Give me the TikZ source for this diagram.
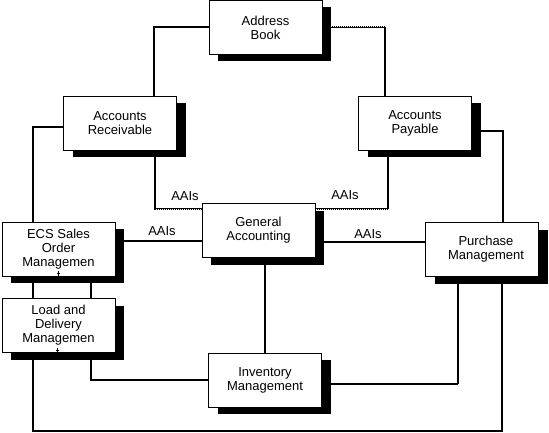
\documentclass[tikz,border=0pt]{standalone}
\usepackage{fontspec}
\setmainfont{Liberation Sans}
\usetikzlibrary{shadows,backgrounds}
\begin{document}
\begin{tikzpicture}[x=1pt,y=-1pt,
  box/.style={draw=black, line width=0.8pt, fill=white, minimum width=113pt, minimum height=54pt,
    inner sep=0pt, align=center, font=\fontsize{13}{14}\selectfont,
    drop shadow={shadow xshift=9pt, shadow yshift=-7pt, fill=black, opacity=1}},
  conn/.style={line width=2pt},
  dconn/.style={line width=2pt, dash pattern=on 1pt off 1pt,
    preaction={draw, line width=1.2pt, solid}},
  lbl/.style={font=\fontsize{13}{13.5}\selectfont, inner sep=0pt},
  tick/.style={line width=0.6pt}]
\useasboundingbox (0,0) rectangle (549,433);

\node[box] (AB) at (265.5,27.5) {Address\\Book};
\node[box] (AR) at (120,123) {Accounts\\Receivable};
\node[box] (AP) at (415,123) {Accounts\\Payable};
\node[box] (GA) at (258.5,230.5) {General\\Accounting};
\node[box] (PM) at (482,249.5) {\hspace*{8pt}Purchase\\\hspace*{8pt}Management};
\node[box] (ECS) at (58.5,249) {ECS Sales\\Order\\Managemen};
\node[box] (LD) at (58.5,325.5) {Load and\\Delivery\\Managemen};
\node[box] (IM) at (265,380) {Inventory\\Management};

\coordinate (bot) at (0,431);
\coordinate (arn) at ([xshift=34pt]AR.north);
\coordinate (apn) at ([xshift=-30pt]AP.north);
\coordinate (arw) at ([yshift=-4pt]AR.west);
\coordinate (ecsn) at ([xshift=-25.5pt]ECS.north);
\coordinate (ars) at ([xshift=35pt]AR.south);
\coordinate (gaw1) at ([yshift=22pt]GA.west);
\coordinate (ape) at ([yshift=-8pt]AP.east);
\coordinate (pmn) at ([xshift=21pt]PM.north);
\coordinate (aps) at ([xshift=-27pt]AP.south);
\coordinate (gae1) at ([yshift=22pt]GA.east);
\coordinate (ecse) at ([yshift=8pt]ECS.east);
\coordinate (gae2) at ([yshift=-11pt]GA.east);
\coordinate (pms1) at ([xshift=-24pt]PM.south);
\coordinate (ime) at ([yshift=-4pt]IM.east);
\coordinate (pms2) at ([xshift=20pt]PM.south);
\coordinate (lds1) at ([xshift=-25.5pt]LD.south);
\coordinate (lds2) at ([xshift=32.5pt]LD.south);
\coordinate (ecss1) at ([xshift=-25.5pt]ECS.south);
\coordinate (ecss2) at ([xshift=32.5pt]ECS.south);
\coordinate (ldn1) at ([xshift=-25.5pt]LD.north);
\coordinate (ldn2) at ([xshift=32.5pt]LD.north);

\begin{scope}[on background layer]
  \draw[conn] (AB.west) -| (arn);
  \draw[dconn] (AB.east) -- (AB.east -| apn);
  \draw[conn] (AB.east -| apn) -- (apn);
  \draw[conn] (arw) -| (ecsn);
  \draw[dconn] (ars) |- (gaw1);
  \draw[conn] (ape) -| (pmn);
  \draw[conn] (aps) -- (aps |- gae1);
  \draw[dconn] (aps |- gae1) -- (gae1);
  \draw[dconn] (ecse) -- (ecse -| GA.west);
  \draw[conn] (gae2) -- (gae2 -| PM.west);
  \draw[conn] (IM.north) -- (IM.north |- GA.south);
  \draw[dconn] (pms1) -- (pms1 |- ime);
  \draw[conn] (pms1 |- ime) -- (ime);
  \draw[dconn] (pms2) |- (lds1 |- bot) -- (lds1);
  \draw[conn] (lds2) |- (IM.west);
  \draw[dconn] (ecss1) -- (ldn1);
  \draw[dconn] (ecss2) -- (ldn2);
\end{scope}

\draw[tick] ([yshift=0.5pt]ECS.south) -- ([yshift=5pt]ECS.south);
\draw[tick] ([xshift=-1.5pt,yshift=3pt]ECS.south) -- ([xshift=1.5pt,yshift=3pt]ECS.south);
\draw[tick] ([xshift=-1.5pt,yshift=0.5pt]LD.south) -- ([xshift=-1.5pt,yshift=5pt]LD.south);
\draw[tick] ([xshift=-3pt,yshift=3pt]LD.south) -- ([xshift=0pt,yshift=3pt]LD.south);

\node[lbl] (aais1) at (185,196) {AAIs};
\node[lbl] (aais2) at (162,231) {AAIs};
\node[lbl] (aais3) at (345,195) {AAIs};
\node[lbl] (aais4) at (368,234) {AAIs};
\end{tikzpicture}
\end{document}
